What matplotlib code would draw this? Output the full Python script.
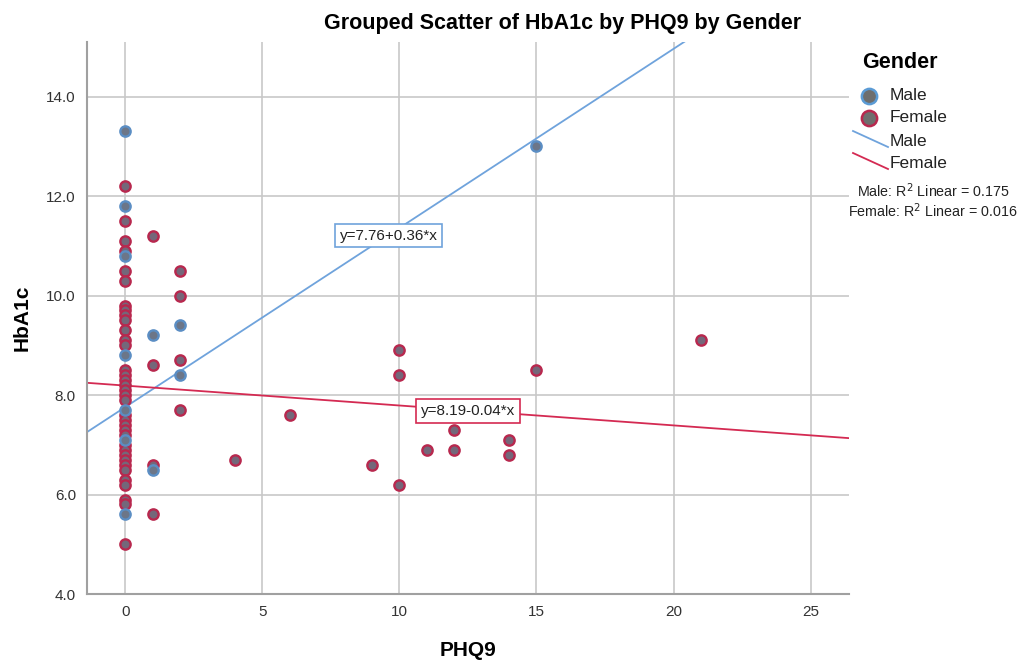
import numpy as np
import matplotlib
matplotlib.use("Agg")
import matplotlib.pyplot as plt
from matplotlib.lines import Line2D

plt.rcParams["font.family"] = ["Liberation Sans", "DejaVu Sans"]

# PHQ9 / HbA1c values
male_phq9 = [0, 0, 0, 0, 0, 0, 0, 1, 1, 2, 2, 15]
male_hba1c = [13.3, 11.8, 10.8, 8.8, 7.7, 7.1, 5.6, 9.2, 6.5, 9.4, 8.4, 13.0]

female_phq9 = [0] * 36 + [1, 1, 1, 1, 2, 2, 2, 2, 4, 6, 9, 10, 10, 10, 11, 12, 12, 14, 14, 15, 21]
female_hba1c = [12.2, 11.5, 11.1, 10.9, 10.5, 10.3, 9.8, 9.7, 9.6, 9.5, 9.3, 9.1,
                9.0, 8.5, 8.4, 8.3, 8.2, 8.1, 8.0, 7.9, 7.6, 7.5, 7.4, 7.3,
                7.2, 7.0, 6.9, 6.8, 6.7, 6.6, 6.5, 6.3, 6.2, 5.9, 5.8, 5.0,
                11.2, 8.6, 6.6, 5.6, 10.5, 10.0, 8.7, 7.7, 6.7, 7.6, 6.6,
                8.9, 8.4, 6.2, 6.9, 7.3, 6.9, 7.1, 6.8, 8.5, 9.1]

# fit lines (from the labels)
male_fit = (7.76, 0.36)
female_fit = (8.19, -0.04)
r2 = {"Male": 0.175, "Female": 0.016}

xticks = [0, 5, 10, 15, 20, 25]
yticks = [4.0, 6.0, 8.0, 10.0, 12.0, 14.0]

blue = "#6fa3dc"
red = "#d42a52"
fill = "#74677a"

fig = plt.figure(figsize=(10.24, 6.62), dpi=100)
ax = fig.add_axes([0.085, 0.1027, 0.744, 0.834])

xlim = (-1.4, 26.4)
ylim = (4.0, 15.1)
ax.set_xlim(*xlim)
ax.set_ylim(*ylim)

for v in xticks:
    ax.axvline(v, color="#c8c8c8", lw=1.2, zorder=0)
for v in yticks[1:]:
    ax.axhline(v, color="#c8c8c8", lw=1.2, zorder=0)

# regression lines
xs = np.array(xlim)
ax.plot(xs, male_fit[0] + male_fit[1] * xs, color=blue, lw=1.3, zorder=2)
ax.plot(xs, female_fit[0] + female_fit[1] * xs, color=red, lw=1.3, zorder=2)

ax.scatter(female_phq9, female_hba1c, s=55, facecolor=fill, edgecolor="#b8284e",
           linewidth=1.7, zorder=3)
ax.scatter(male_phq9, male_hba1c, s=55, facecolor="#6c7688", edgecolor="#5b8ec4",
           linewidth=1.7, zorder=4)

ax.text(9.6, 11.2, "y=7.76+0.36*x", fontsize=11, ha="center", va="center",
        color="#222222", zorder=5,
        bbox=dict(boxstyle="square,pad=0.3", fc="white", ec=blue, lw=1.2))
ax.text(12.5, 7.68, "y=8.19-0.04*x", fontsize=11, ha="center", va="center",
        color="#222222", zorder=5,
        bbox=dict(boxstyle="square,pad=0.3", fc="white", ec=red, lw=1.2))

ax.set_xticks(xticks)
ax.set_yticks(yticks)
ax.set_yticklabels([f"{v:.1f}" for v in yticks])
ax.tick_params(length=0, labelsize=11, labelcolor="#333333", pad=8)
for side in ["top", "right"]:
    ax.spines[side].set_visible(False)
for side in ["left", "bottom"]:
    ax.spines[side].set_color("#a0a0a0")
    ax.spines[side].set_linewidth(1.5)

W, H = 1024, 662
def fx(px):
    return px / W
def fy(py):
    return 1 - py / H

fig.text(fx(468), fy(650), "PHQ9", fontsize=15, fontweight="bold",
         ha="center", va="center")
fig.text(fx(22), fy(318), "HbA1c", fontsize=15, fontweight="bold",
         ha="center", va="center", rotation=90)
fig.text(fx(563), fy(23), "Grouped Scatter of HbA1c by PHQ9 by Gender",
         fontsize=15.5, fontweight="bold", ha="center", va="center")

# legend drawn by hand
fig.text(fx(862), fy(62), "Gender", fontsize=15.5, fontweight="bold", va="center")
for i, (name, ec) in enumerate([("Male", "#5b9bd5"), ("Female", "#b8284e")]):
    y = 96 + i * 22
    fig.add_artist(Line2D([fx(869)], [fy(y)], marker="o", markersize=11,
                          markerfacecolor="#6e6e6e", markeredgecolor=ec,
                          markeredgewidth=1.8, transform=fig.transFigure))
    fig.text(fx(890), fy(y), name, fontsize=12.5, va="center", color="#222222")
for i, (name, c) in enumerate([("Male", blue), ("Female", red)]):
    y = 141 + i * 22
    fig.add_artist(Line2D([fx(853), fx(888)], [fy(y - 10), fy(y + 6)], color=c,
                          lw=1.3, transform=fig.transFigure))
    fig.text(fx(890), fy(y), name, fontsize=12.5, va="center", color="#222222")
for i, name in enumerate(["Male", "Female"]):
    fig.text(fx(933), fy(191 + i * 20), f"{name}: R$^2$ Linear = {r2[name]:.3f}",
             fontsize=10.3, ha="center", va="center", color="#222222")

fig.savefig("out.png", dpi=100, facecolor="white")
